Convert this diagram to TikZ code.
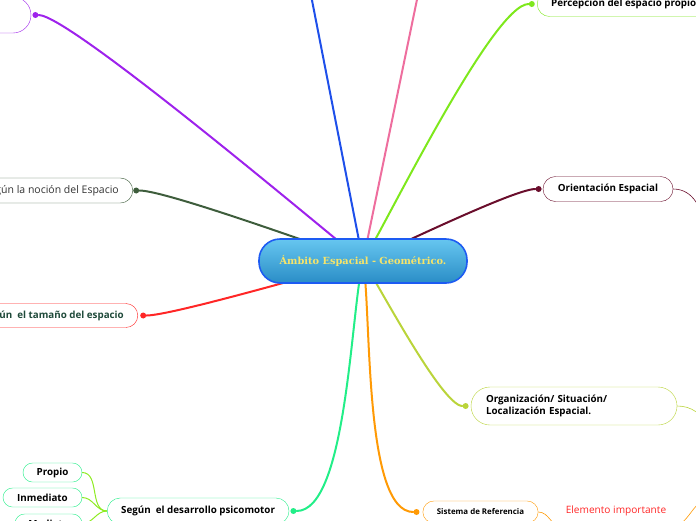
\documentclass[tikz,border=0pt]{standalone}
\usepackage{fontspec}
\setmainfont{Open Sans}
\newfontfamily\titolofont{DejaVu Serif}
\usetikzlibrary{positioning, backgrounds}
\definecolor{bordocentro}{HTML}{1D5BF2}
\definecolor{cielosu}{HTML}{66C6F0}
\definecolor{cielogiu}{HTML}{2A8DC6}
\definecolor{giallotit}{HTML}{F6E46A}
\definecolor{blucol}{HTML}{1E4FEA}
\definecolor{rosacol}{HTML}{EE6E9E}
\definecolor{limecol}{HTML}{7EE81C}
\definecolor{violacol}{HTML}{9E22EC}
\definecolor{scurocol}{HTML}{3E5D3C}
\definecolor{bordeaux}{HTML}{6A0E2C}
\definecolor{rossocol}{HTML}{FF2626}
\definecolor{mentacol}{HTML}{22EE88}
\definecolor{arancio}{HTML}{FF9A05}
\definecolor{olivacol}{HTML}{BAD43A}
\definecolor{verdino}{HTML}{8EEB22}
\definecolor{testoverde}{HTML}{1F4A3A}
\tikzset{
	% argomento centrale
	centro/.style={draw=bordocentro, line width=1.6pt, rounded corners=21pt, top color=cielosu, bottom color=cielogiu,
	               minimum width=208pt, minimum height=44pt, font=\titolofont\bfseries\fontsize{9.8}{11}\selectfont, text=giallotit},
	% argomento (pillola)
	tema/.style={draw, thin, fill=white, rounded corners=12.5pt, minimum height=25pt, inner xsep=14pt,
	             font=\bfseries\fontsize{9.8}{12.5}\selectfont},
	% sotto-argomento piccolo
	foglia/.style={tema, draw=mentacol, rounded corners=9.5pt, minimum height=19pt, inner xsep=0pt},
	% ramo principale
	ramo/.style={line width=2pt, line cap=round},
	% ramo secondario
	ramino/.style={line width=0.6pt},
	% pallino di attacco
	punto/.style={circle, fill, inner sep=0pt, minimum size=6pt},
}

\begin{document}
\begin{tikzpicture}[x=1pt, y=1pt]
    \useasboundingbox (0,0) rectangle (696,-520);
    \clip (0,0) rectangle (696,-520);

    \node[centro] (centro) at (363,-261) {\raisebox{-2.5pt}{Ámbito Espacial - Geométrico.}};

    % argomenti a destra
    \node[tema, draw=limecol, anchor=west] (percez) at (537,-4) {Percepción del espacio propio};
    \node[punto, limecol, left=2pt of percez] (pPercez) {};
    \node[tema, draw=bordeaux, minimum width=130pt] (orient) at (608,-189) {Orientación Espacial};
    \node[punto, bordeaux, left=1pt of orient] (pOrient) {};
    \node[tema, draw=olivacol, minimum width=206pt, minimum height=38pt, rounded corners=19pt, align=left,
          text width=176pt, inner xsep=15pt] (organiz) at (574,-406) {Organización/ Situación/\\Localización Espacial.};
    \node[punto, olivacol, left=2pt of organiz] (pOrganiz) {};
    \node[tema, draw=arancio, minimum width=113pt, minimum height=22pt, rounded corners=11pt,
          font=\bfseries\fontsize{7.9}{9}\selectfont] (sistema) at (480.5,-512) {Sistema de Referencia};
    \node[punto, arancio, left=3pt of sistema] (pSistema) {};
    \node[text=rossocol, font=\fontsize{10.1}{12}\selectfont, minimum height=32pt] (elemento) at (616,-511) {Elemento importante};

    % argomenti a sinistra
    \node[tema, draw=violacol, minimum width=120pt, minimum height=36pt, rounded corners=18pt] (tviola) at (-29,-15) {};
    \node[punto, violacol, right=1pt of tviola] (pViola) {};
    \node[tema, draw=scurocol, anchor=east, text=black!80, font=\fontsize{10.5}{12}\selectfont] (nocion) at (133,-190.5) {Según la noción del Espacio};
    \node[punto, scurocol, right=0pt of nocion] (pNocion) {};
    \node[tema, draw=rossocol, anchor=east, text=testoverde, minimum height=24pt, rounded corners=12pt] (tamano) at (138,-315.5) {Según~ el tamaño del espacio};
    \node[punto, rossocol, right=2pt of tamano] (pTamano) {};
    \node[tema, draw=mentacol, anchor=west, minimum height=26pt, rounded corners=13pt] (desarr) at (107,-511) {Según~ el desarrollo psicomotor};
    \node[punto, mentacol, right=1pt of desarr] (pDesarr) {};

    % foglie
    \node[foglia, minimum width=59pt] (propio) at (52.5,-472.5) {Propio};
    \node[foglia, minimum width=79pt] (inmed) at (42.5,-497.5) {Inmediato};
    \node[foglia, minimum width=67pt] (mediato) at (48.5,-523.5) {Mediato};

    % estremi fuori dal foglio
    \coordinate (fuoriBlu) at (309,15);
    \coordinate (fuoriRosa) at (420,15);
    \coordinate (fuoriOrient) at (706,-230);
    \coordinate (fuoriOrganiz) at (706,-428);
    \coordinate (fuoriElem) at (712,-498);

    \begin{scope}[on background layer]
      \clip (0,0) rectangle (696,-520);
      % rami principali
      \draw[ramo, blucol] (centro.center) -- (fuoriBlu);
      \draw[ramo, rosacol] (centro.center) -- (fuoriRosa);
      \draw[ramo, limecol] (centro.center) to[out=57, in=180, looseness=0.3] (pPercez);
      \draw[ramo, bordeaux] (centro.center) to[out=22, in=180, looseness=0.3] (pOrient);
      \draw[ramo, olivacol] (centro.center) to[out=-55, in=180, looseness=0.3] (pOrganiz);
      \draw[ramo, arancio] (centro.center) to[out=-80, in=180, looseness=0.5] (pSistema);
      \draw[ramo, mentacol] (centro.center) to[out=-104, in=0, looseness=0.5] (pDesarr);
      \draw[ramo, rossocol] (centro.center) to[out=194, in=0, looseness=0.3] (pTamano);
      \draw[ramo, scurocol] (centro.center) to[out=162, in=0, looseness=0.3] (pNocion);
      \draw[ramo, violacol] (centro.center) to[out=143, in=0, looseness=0.2] (pViola);
      % rami secondari
      \draw[ramino, bordeaux] (orient.east) to[out=0, in=100] (fuoriOrient);
      \draw[ramino, olivacol] (organiz.east) to[out=0, in=100] (fuoriOrganiz);
      \draw[ramino, arancio] (sistema.east) to[out=0, in=180] (elemento.south west);
      \draw[ramino, arancio] (elemento.south east) to[out=0, in=180] (fuoriElem);
      \draw[verdino, line width=1pt] (desarr.west) to[out=180, in=0] (propio.east);
      \draw[verdino, line width=1pt] (desarr.west) to[out=180, in=0] (inmed.east);
      \draw[verdino, line width=1pt] (desarr.west) to[out=180, in=0] (mediato.east);
    \end{scope}
  \end{tikzpicture}
\end{document}
